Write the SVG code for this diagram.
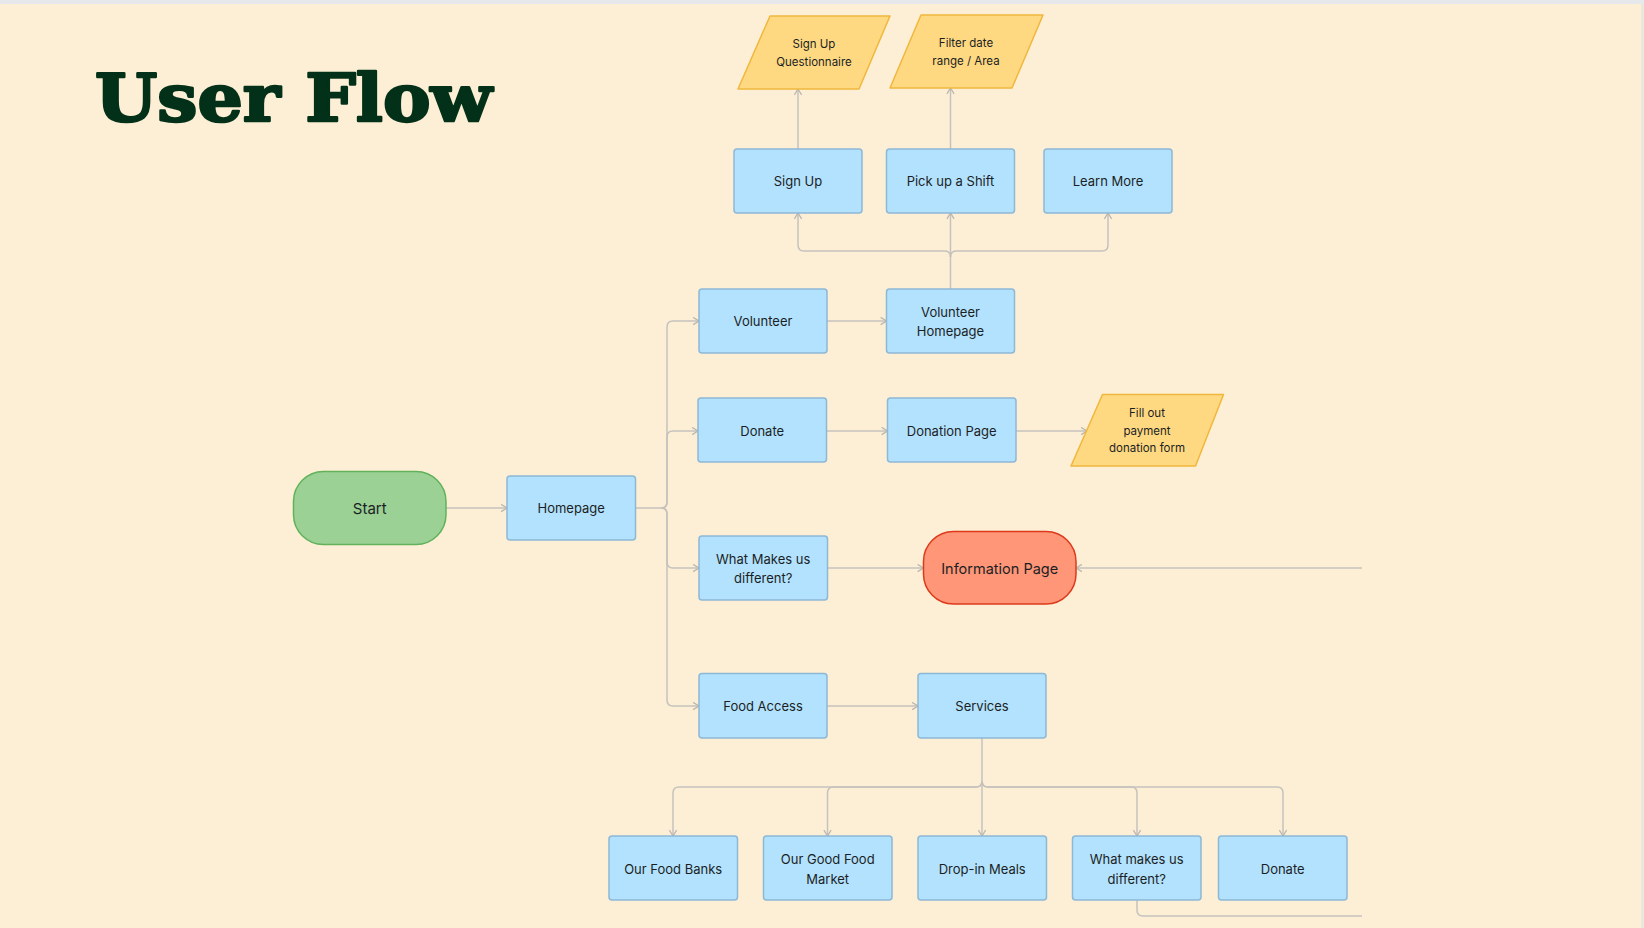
<svg xmlns="http://www.w3.org/2000/svg" width="1644" height="928" viewBox="0 0 1644 928">
<style>
.bg{fill:#fdefd5}
.box{fill:#b3e2fe;stroke:#8db8d6;stroke-width:1.5}
.io{fill:#ffd982;stroke:#f0b73c;stroke-width:1.5;stroke-linejoin:round}
.lbl{font-family:Inter,"Noto Sans","Liberation Sans",sans-serif;font-size:13px;fill:#1b1f24;text-anchor:middle;dominant-baseline:central}
.sm{font-size:11.5px}
.conn path{fill:none;stroke:#c5c2bd;stroke-width:1.5}
.title{font-family:"DejaVu Serif","Liberation Serif",serif;font-weight:bold;font-size:66px;fill:#033018;stroke:#033018;stroke-width:2.5;stroke-linejoin:round}
</style>
<defs>
<marker id="arr" viewBox="0 0 10 10" refX="9.5" refY="5" markerWidth="9" markerHeight="9" markerUnits="userSpaceOnUse" orient="auto">
<path d="M3,1 L9.5,5 L3,9" fill="none" stroke="#b9b6b1" stroke-width="1.4"/>
</marker>
</defs>
<rect class="bg" x="0" y="0" width="1644" height="928"/>
<rect x="0" y="0" width="1644" height="4" fill="#e6e8ec"/>
<rect x="1641" y="4" width="3" height="924" fill="#ece7dd"/>
<text id="title" class="title" x="95" y="121" textLength="397" lengthAdjust="spacingAndGlyphs">User Flow</text>

<g class="conn" id="connectors">
<path d="M446,508 H507" marker-end="url(#arr)"/>
<path d="M636,508 H661 Q667,508 667,502 V327 Q667,321 673,321 H699" marker-end="url(#arr)"/>
<path d="M661,508 Q667,508 667,502 V437 Q667,431 673,431 H698" marker-end="url(#arr)"/>
<path d="M661,508 Q667,508 667,514 V562 Q667,568 673,568 H699" marker-end="url(#arr)"/>
<path d="M661,508 Q667,508 667,514 V700 Q667,706 673,706 H699" marker-end="url(#arr)"/>
<path d="M827,321 H886.5" marker-end="url(#arr)"/>
<path d="M826.5,431 H887.5" marker-end="url(#arr)"/>
<path d="M1016,431 H1087" marker-end="url(#arr)"/>
<path d="M827.5,568 H923.5" marker-end="url(#arr)"/>
<path d="M1362,568 H1076" marker-end="url(#arr)"/>
<path d="M827,706 H918" marker-end="url(#arr)"/>
<path d="M950.5,289 V213" marker-end="url(#arr)"/>
<path d="M950.5,257 Q950.5,251 944.5,251 H804 Q798,251 798,245 V213" marker-end="url(#arr)"/>
<path d="M950.5,257 Q950.5,251 956.5,251 H1102 Q1108,251 1108,245 V213" marker-end="url(#arr)"/>
<path d="M798,149 V89" marker-end="url(#arr)"/>
<path d="M950.5,149 V88" marker-end="url(#arr)"/>
<path d="M982,738 V836" marker-end="url(#arr)"/>
<path d="M982,781 Q982,787 976,787 H679 Q673,787 673,793 V836" marker-end="url(#arr)"/>
<path d="M982,781 Q982,787 976,787 H833.5 Q827.5,787 827.5,793 V836" marker-end="url(#arr)"/>
<path d="M982,781 Q982,787 988,787 H1131 Q1137,787 1137,793 V836" marker-end="url(#arr)"/>
<path d="M982,781 Q982,787 988,787 H1277 Q1283,787 1283,793 V836" marker-end="url(#arr)"/>
<path d="M1137,900 V910 Q1137,916 1143,916 H1362"/>
</g>

<g id="n-start">
<rect x="293.5" y="471.5" width="152.5" height="73" rx="30" fill="#9bd194" stroke="#62b25c" stroke-width="1.5"/>
<text class="lbl" x="369.7" y="508" style="font-size:15px">Start</text>
</g>
<g id="n-homepage">
<rect class="box" x="507" y="476" width="128.5" height="64" rx="3"/>
<text class="lbl" x="571.2" y="508">Homepage</text>
</g>
<g id="n-volunteer">
<rect class="box" x="699" y="289" width="128" height="64" rx="3"/>
<text class="lbl" x="763" y="321">Volunteer</text>
</g>
<g id="n-volunteer-homepage">
<rect class="box" x="886.5" y="289" width="128" height="64" rx="3"/>
<text class="lbl" x="950.5" y="311.5">Volunteer</text>
<text class="lbl" x="950.5" y="331">Homepage</text>
</g>
<g id="n-signup">
<rect class="box" x="734" y="149" width="128" height="64" rx="3"/>
<text class="lbl" x="798" y="181">Sign Up</text>
</g>
<g id="n-pickup">
<rect class="box" x="886.5" y="149" width="128" height="64" rx="3"/>
<text class="lbl" x="950.5" y="181">Pick up a Shift</text>
</g>
<g id="n-learnmore">
<rect class="box" x="1044" y="149" width="128" height="64" rx="3"/>
<text class="lbl" x="1108" y="181">Learn More</text>
</g>
<g id="n-questionnaire">
<polygon class="io" points="770,16 890,16 859,89 738,89"/>
<text class="lbl sm" x="814" y="44">Sign Up</text>
<text class="lbl sm" x="814" y="62">Questionnaire</text>
</g>
<g id="n-filter">
<polygon class="io" points="921,15 1043,15 1012,88 890,88"/>
<text class="lbl sm" x="966" y="43">Filter date</text>
<text class="lbl sm" x="966" y="61">range / Area</text>
</g>
<g id="n-donate">
<rect class="box" x="698" y="398" width="128.5" height="64" rx="3"/>
<text class="lbl" x="762.2" y="430.5">Donate</text>
</g>
<g id="n-donation-page">
<rect class="box" x="887.5" y="398" width="128.5" height="64" rx="3"/>
<text class="lbl" x="951.7" y="430.5">Donation Page</text>
</g>
<g id="n-fillout">
<polygon class="io" points="1102.5,394.5 1223.5,394.5 1195.5,466 1071,466"/>
<text class="lbl sm" x="1147" y="413">Fill out</text>
<text class="lbl sm" x="1147" y="430.5">payment</text>
<text class="lbl sm" x="1147" y="448">donation form</text>
</g>
<g id="n-whatmakes">
<rect class="box" x="699" y="536" width="128.5" height="64" rx="3"/>
<text class="lbl" x="763.2" y="558.5">What Makes us</text>
<text class="lbl" x="763.2" y="578">different?</text>
</g>
<g id="n-info">
<rect x="923.5" y="531.5" width="152.5" height="72.5" rx="30" fill="#ff9677" stroke="#dc3a1b" stroke-width="1.5"/>
<text class="lbl" x="999.7" y="568" style="font-size:14.5px">Information Page</text>
</g>
<g id="n-foodaccess">
<rect class="box" x="699" y="673.5" width="128" height="64.5" rx="3"/>
<text class="lbl" x="763" y="706">Food Access</text>
</g>
<g id="n-services">
<rect class="box" x="918" y="673.5" width="128" height="64.5" rx="3"/>
<text class="lbl" x="982" y="706">Services</text>
</g>
<g id="n-foodbanks">
<rect class="box" x="609" y="836" width="128.5" height="64" rx="3"/>
<text class="lbl" x="673.2" y="868.5">Our Food Banks</text>
</g>
<g id="n-goodfood">
<rect class="box" x="763.5" y="836" width="128.5" height="64" rx="3"/>
<text class="lbl" x="827.7" y="858.5">Our Good Food</text>
<text class="lbl" x="827.7" y="878.5">Market</text>
</g>
<g id="n-dropin">
<rect class="box" x="918" y="836" width="128.5" height="64" rx="3"/>
<text class="lbl" x="982.2" y="868.5">Drop-in Meals</text>
</g>
<g id="n-whatmakes2">
<rect class="box" x="1072.5" y="836" width="128.5" height="64" rx="3"/>
<text class="lbl" x="1136.7" y="858.5">What makes us</text>
<text class="lbl" x="1136.7" y="878.5">different?</text>
</g>
<g id="n-donate2">
<rect class="box" x="1218.5" y="836" width="128.5" height="64" rx="3"/>
<text class="lbl" x="1282.7" y="868.5">Donate</text>
</g>
</svg>
